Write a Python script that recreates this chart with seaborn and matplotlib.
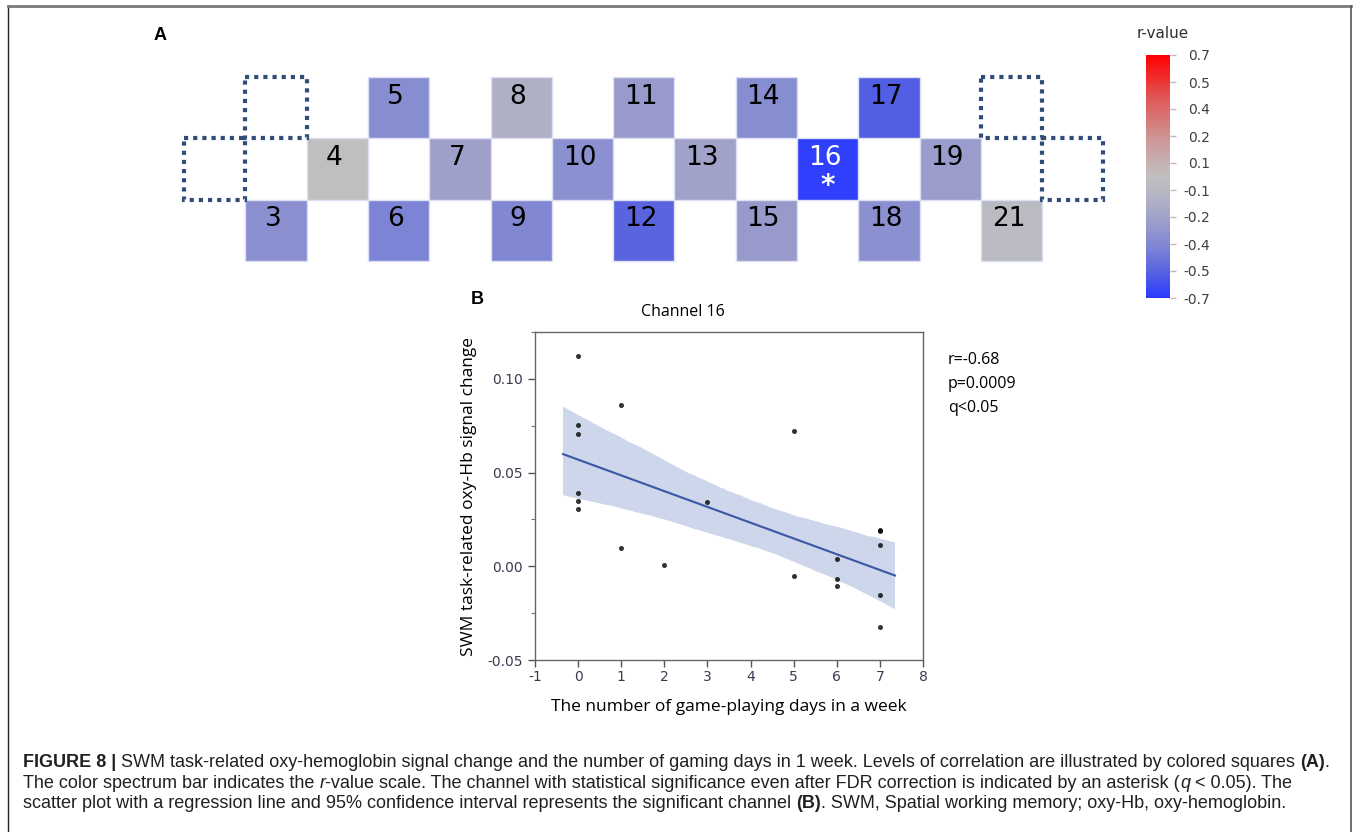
import numpy as np
import pandas as pd
import matplotlib
matplotlib.use("Agg")
import matplotlib.pyplot as plt
import seaborn as sns
from matplotlib.colors import LinearSegmentedColormap
from matplotlib.patches import Rectangle
from matplotlib.lines import Line2D
from matplotlib.ticker import MultipleLocator

plt.rcParams['axes.unicode_minus'] = False

# ---------------- data: panel A ----------------
channels = [3, 4, 5, 6, 7, 8, 9, 10, 11, 12, 13, 14, 15, 16, 17, 18, 19, 21]
r_values = [-0.35, -0.01, -0.36, -0.41, -0.25, -0.14, -0.39, -0.34, -0.28, -0.54,
            -0.24, -0.36, -0.28, -0.68, -0.56, -0.34, -0.27, -0.05]
significant = [16]
# probe layout (row, column) of each channel on the grid
grid_row = [2, 1, 0, 2, 1, 0, 2, 1, 0, 2, 1, 0, 2, 1, 0, 2, 1, 2]
grid_col = [1, 2, 3, 3, 4, 5, 5, 6, 7, 7, 8, 9, 9, 10, 11, 11, 12, 13]
missing_row = [1, 0, 0, 1]
missing_col = [0, 1, 13, 14]
cbar_ticklabels = ["-0.7", "-0.5", "-0.4", "-0.2", "-0.1", "0.1", "0.2", "0.4", "0.5", "0.7"]

# ---------------- data: panel B ----------------
days = [0, 0, 0, 0, 0, 0, 1, 1, 2, 3, 5, 5, 6, 6, 6, 7, 7, 7, 7, 7]
signal = [0.1121, 0.0755, 0.0707, 0.0393, 0.0350, 0.0304, 0.0861, 0.0100, 0.0005, 0.0345,
          0.0720, -0.0054, 0.0041, -0.0070, -0.0105, 0.0196, 0.0188, 0.0113, -0.0154, -0.0323]
xticks = [-1, 0, 1, 2, 3, 4, 5, 6, 7, 8]
yticks = [-0.05, 0.0, 0.05, 0.10]
ytick_labels = ["-0.05", "0.00", "0.05", "0.10"]
stats_lines = ["r=-0.68", "p=0.0009", "q<0.05"]

W, H = 1356, 832
fig = plt.figure(figsize=(W / 100, H / 100), dpi=100)

def fx(px):
    return px / W

def fy(py):
    return 1 - py / H

# colormap blue -> gray -> red
cmap = LinearSegmentedColormap.from_list("rval", [
    (0.000, "#2a3bff"), (0.107, "#5762e0"), (0.214, "#7f86d4"), (0.321, "#9ea0c9"),
    (0.429, "#b5b6c4"), (0.500, "#c0c0c0"), (0.643, "#cc9a9a"), (0.821, "#e05858"),
    (1.000, "#ff0000")])

# ---------------- panel A ----------------
cell = 61.3
axA = fig.add_axes([fx(184), fy(261), fx(15 * cell), 184 / H])
cax = fig.add_axes([fx(1146), fy(298), fx(24), 243 / H])

mat = np.full((3, 15), np.nan)
for r, c, v in zip(grid_row, grid_col, r_values):
    mat[r, c] = v
df = pd.DataFrame(mat)
sns.heatmap(df, ax=axA, cmap=cmap, vmin=-0.7, vmax=0.7, cbar_ax=cax,
            linewidths=0, xticklabels=False, yticklabels=False)
axA.axis("off")

for ch, r, c in zip(channels, grid_row, grid_col):
    axA.add_patch(Rectangle((c, r), 1, 1, fill=False, edgecolor="#dde0f3",
                            linewidth=1, clip_on=False))
    sig = ch in significant
    axA.text(c + 0.45, r + 0.32, str(ch), ha="center", va="center",
             fontsize=19, family="DejaVu Sans", color="white" if sig else "black")
    if sig:
        axA.text(c + 0.5, r + 0.78, "*", ha="center", va="center",
                 fontsize=20, family="DejaVu Sans", color="white", fontweight="bold")

for r, c in zip(missing_row, missing_col):
    axA.add_patch(Rectangle((c, r), 1, 1, fill=False, edgecolor="#2f4d78",
                            linestyle=(0, (1, 1.2)), linewidth=3, clip_on=False))

cbar = axA.collections[0].colorbar
cbar.set_ticks(np.linspace(-0.7, 0.7, 10))
cbar.set_ticklabels(cbar_ticklabels)
cbar.outline.set_visible(False)
cax.tick_params(axis="y", length=4, width=1, colors="#c9b4c4", pad=25,
                labelsize=10, labelcolor="#404040")
for lab in cax.get_yticklabels():
    lab.set_ha("right")
    lab.set_family("DejaVu Sans")
fig.text(fx(1163), fy(33), "r-value", ha="center", va="center", fontsize=11,
         family="DejaVu Sans", color="#303030")

fig.text(fx(160), fy(35), "A", ha="center", va="center", fontsize=13,
         fontweight="bold", family="Liberation Sans")
fig.text(fx(477), fy(300), "B", ha="center", va="center", fontsize=13,
         fontweight="bold", family="Liberation Sans")

# ---------------- panel B ----------------
axB = fig.add_axes([fx(535), fy(660), fx(388), 328 / H])
sns.regplot(x=days, y=signal, ax=axB, truncate=False, ci=95, seed=0,
            scatter_kws=dict(color="black", s=13, linewidths=0),
            line_kws=dict(color="#3a56a5", lw=1.5))
for coll in axB.collections:
    if isinstance(coll, matplotlib.collections.PolyCollection):
        coll.set_facecolor("#cdd6ea")
        coll.set_alpha(1)
        coll.set_zorder(0.5)
axB.set_xlim(-1, 8)
axB.set_ylim(-0.05, 0.125)
axB.set_xticks(xticks)
axB.set_yticks(yticks)
axB.set_yticklabels(ytick_labels)
axB.yaxis.set_minor_locator(MultipleLocator(0.025))
axB.tick_params(axis="both", which="major", direction="out", length=5, width=1,
                colors="#555555", labelcolor="#3a3a50", labelsize=10)
axB.tick_params(axis="x", which="major", pad=2)
axB.tick_params(axis="y", which="minor", length=3, width=0.8, colors="#777777")
for lab in axB.get_xticklabels() + axB.get_yticklabels():
    lab.set_family("DejaVu Sans")
for s in axB.spines.values():
    s.set_visible(True)
    s.set_color("#666666")
    s.set_linewidth(1)
axB.set_xlabel("The number of game-playing days in a week", fontsize=12.5,
               family="Open Sans", labelpad=11)
axB.set_ylabel("SWM task-related oxy-Hb signal change", fontsize=12.5,
               family="Open Sans", labelpad=8)
fig.text(fx(683), fy(312), "Channel 16", ha="center", va="center", fontsize=11.5,
         family="Open Sans")
for i, line in enumerate(stats_lines):
    fig.text(fx(948), fy(360 + 24 * i), line, ha="left", va="center", fontsize=11.5,
             family="Open Sans")

# ---------------- frame ----------------
fig.add_artist(Line2D([fx(8), fx(8)], [fy(6), 0], color="#222222", lw=1))
fig.add_artist(Line2D([fx(8), fx(1351)], [fy(6), fy(6)], color="#7a7a7a", lw=2))
fig.add_artist(Line2D([fx(1351), fx(1351)], [fy(6), 0], color="#555555", lw=1.2))

# ---------------- caption ----------------
caption = [
    [("FIGURE 8 |", "b"), ("SWM task-related oxy-hemoglobin signal change and the number of gaming days in 1 week. Levels of correlation are illustrated by colored squares", ""), ("(A)", "b"), (".", "")],
    [("The color spectrum bar indicates the", ""), ("r", "i"), ("-value scale. The channel with statistical significance even after FDR correction is indicated by an asterisk (", ""), ("q", "i"), ("< 0.05). The", "")],
    [("scatter plot with a regression line and 95% confidence interval represents the significant channel", ""), ("(B)", "b"), (". SWM, Spatial working memory; oxy-Hb, oxy-hemoglobin.", "")],
]
# whether a space precedes each run
space_before = [
    [False, True, True, False],
    [False, True, False, False, True],
    [False, True, False],
]
renderer = fig.canvas.get_renderer()

def text_width(s, size, style):
    t = fig.text(0, 0, s, fontsize=size, family="Liberation Sans",
                 fontweight="bold" if "b" in style else "normal",
                 fontstyle="italic" if "i" in style else "normal")
    w = t.get_window_extent(renderer).width
    t.remove()
    return w

def line_width(runs, spaces, size):
    sp = text_width("x x", size, "") - text_width("xx", size, "")
    total = 0
    for (s, st), b in zip(runs, spaces):
        if b:
            total += sp
        total += text_width(s, size, st)
    return total

base = 12.0
size = base * 1312 / line_width(caption[0], space_before[0], base)
sp = text_width("x x", size, "") - text_width("xx", size, "")
baselines = [767, 787.5, 808]
for runs, spaces, yb in zip(caption, space_before, baselines):
    x = 23
    for (s, st), b in zip(runs, spaces):
        if b:
            x += sp
        t = fig.text(fx(x), fy(yb), s, fontsize=size, family="Liberation Sans",
                     fontweight="bold" if "b" in st else "normal",
                     fontstyle="italic" if "i" in st else "normal",
                     color="#231f20", va="baseline", ha="left")
        x += t.get_window_extent(renderer).width

fig.savefig("out.png", dpi=100)
